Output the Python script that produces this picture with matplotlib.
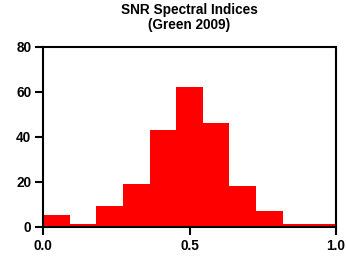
import matplotlib
matplotlib.use("Agg")
import matplotlib.pyplot as plt
import numpy as np

bin_edges = np.linspace(0.0, 1.0, 12)
counts = [5, 1, 9, 19, 43, 62, 46, 18, 7, 1, 1]
title = "SNR Spectral Indices\n(Green 2009)"
xticks = [0.0, 0.5, 1.0]
xticklabels = ["0.0", "0.5", "1.0"]
yticks = [0, 20, 40, 60, 80]

plt.rcParams['font.family'] = ['Liberation Sans', 'DejaVu Sans']
plt.rcParams['font.weight'] = 'bold'

fig = plt.figure(figsize=(3.46, 2.70), dpi=100)
ax = fig.add_axes([43/346, 1 - 226.7/270, (336-43)/346, (226.7-46.7)/270])

ax.stairs(counts, bin_edges, fill=True, color='#ff0000', linewidth=0)

ax.set_xlim(0, 1.0)
ax.set_ylim(0, 80)
ax.set_xticks(xticks)
ax.set_xticklabels(xticklabels)
ax.set_yticks(yticks)
for s in ax.spines.values():
    s.set_linewidth(1.5)
    s.set_color('black')
ax.tick_params(direction='out', length=6, width=1.5, labelsize=9.8, pad=2.5)
for lab in ax.get_xticklabels() + ax.get_yticklabels():
    lab.set_fontweight('bold')

fig.text((43+336)/2/346, 1 - 3/270, title, ha='center', va='top',
         fontsize=9.8, fontweight='bold', linespacing=1.1)

fig.savefig("out.png", dpi=100)
